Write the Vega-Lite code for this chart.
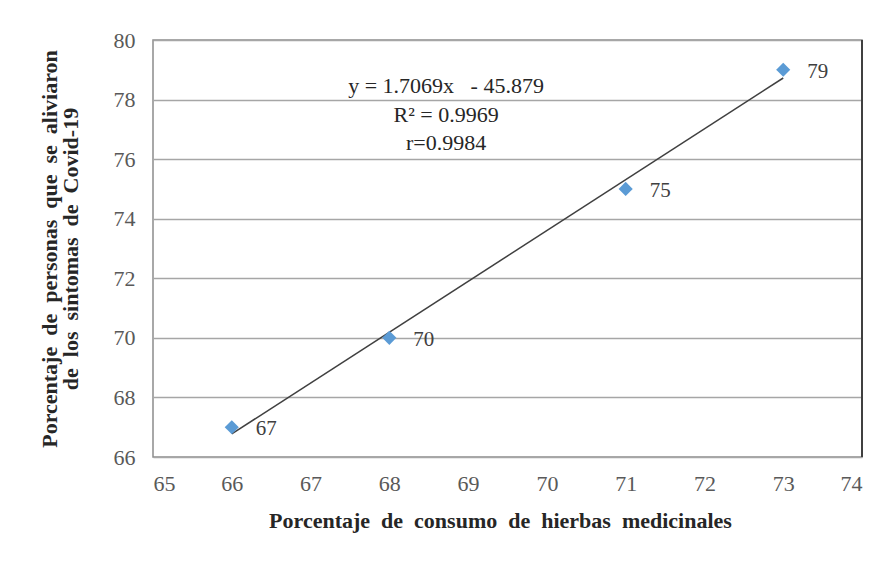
{
  "$schema": "https://vega.github.io/schema/vega-lite/v6.json",
  "autosize": {"type": "none"},
  "padding": {"left": 153, "top": 40, "right": 28, "bottom": 104},
  "width": 709,
  "height": 417,
  "background": "white",
  "config": {
    "view": {"stroke": "#8c8c8c", "strokeWidth": 1.5},
    "font": "Times New Roman, Liberation Serif, serif"
  },
  "datasets": {
    "pts": [
      {"consumo": 66, "alivio": 67},
      {"consumo": 68, "alivio": 70},
      {"consumo": 71, "alivio": 75},
      {"consumo": 73, "alivio": 79}
    ],
    "eq": [
      {"x": 68.72, "y": 78.46, "t": "y = 1.7069x \u00a0 - 45.879"},
      {"x": 68.72, "y": 77.48, "t": "R² = 0.9969"},
      {"x": 68.72, "y": 76.54, "t": "r=0.9984"}
    ]
  },
  "layer": [
    {
      "data": {"name": "pts"},
      "transform": [{"regression": "alivio", "on": "consumo"}],
      "mark": {"type": "line", "color": "#404040", "strokeWidth": 1.5},
      "encoding": {
        "x": {
          "field": "consumo", "type": "quantitative",
          "scale": {"domain": [65, 74], "nice": false, "zero": false},
          "axis": {
            "values": [65, 66, 67, 68, 69, 70, 71, 72, 73, 74],
            "format": "d",
            "grid": false, "ticks": false, "domain": false,
            "labelFont": "Times New Roman, Liberation Serif, serif", "labelFontSize": 22, "labelColor": "#595959",
            "labelPadding": 16,
            "title": "Porcentaje\u00a0 de\u00a0 consumo\u00a0 de\u00a0 hierbas\u00a0 medicinales",
            "titleFont": "Times New Roman, Liberation Serif, serif", "titleFontSize": 22, "titleFontWeight": "bold",
            "titleColor": "#262626", "titlePadding": 16, "titleX": 347
          }
        },
        "y": {
          "field": "alivio", "type": "quantitative",
          "scale": {"domain": [66, 80], "nice": false, "zero": false},
          "axis": {
            "values": [66, 68, 70, 72, 74, 76, 78, 80],
            "grid": true, "gridColor": "#a6a6a6", "gridWidth": 1.5,
            "ticks": false, "domain": false,
            "labelFont": "Times New Roman, Liberation Serif, serif", "labelFontSize": 22, "labelColor": "#595959",
            "labelPadding": 18,
            "title": ["Porcentaje\u00a0 de\u00a0 personas\u00a0 que\u00a0 se\u00a0 aliviaron", "de\u00a0 los\u00a0 sintomas\u00a0 de\u00a0 Covid-19"],
            "titleFont": "Times New Roman, Liberation Serif, serif", "titleFontSize": 22, "titleFontWeight": "bold",
            "titleColor": "#262626", "titlePadding": 31, "titleLineHeight": 21
          }
        }
      }
    },
    {
      "data": {"name": "pts"},
      "mark": {"type": "rule", "color": "#404040", "strokeWidth": 1.5},
      "encoding": {
        "x": {"datum": 74, "type": "quantitative"}
      }
    },
    {
      "data": {"name": "pts"},
      "mark": {"type": "point", "shape": "diamond", "filled": true, "color": "#5b9bd5", "size": 200, "opacity": 1},
      "encoding": {
        "x": {"field": "consumo", "type": "quantitative"},
        "y": {"field": "alivio", "type": "quantitative"}
      }
    },
    {
      "data": {"name": "pts"},
      "mark": {"type": "text", "align": "left", "dx": 24, "dy": 2, "fontSize": 21, "font": "Times New Roman, Liberation Serif, serif", "color": "#404040"},
      "encoding": {
        "x": {"field": "consumo", "type": "quantitative"},
        "y": {"field": "alivio", "type": "quantitative"},
        "text": {"field": "alivio", "type": "quantitative"}
      }
    },
    {
      "data": {"name": "eq"},
      "mark": {"type": "text", "align": "center", "baseline": "middle", "fontSize": 22, "font": "Times New Roman, Liberation Serif, serif", "color": "#262626"},
      "encoding": {
        "x": {"field": "x", "type": "quantitative"},
        "y": {"field": "y", "type": "quantitative"},
        "text": {"field": "t", "type": "nominal"}
      }
    }
  ]
}
